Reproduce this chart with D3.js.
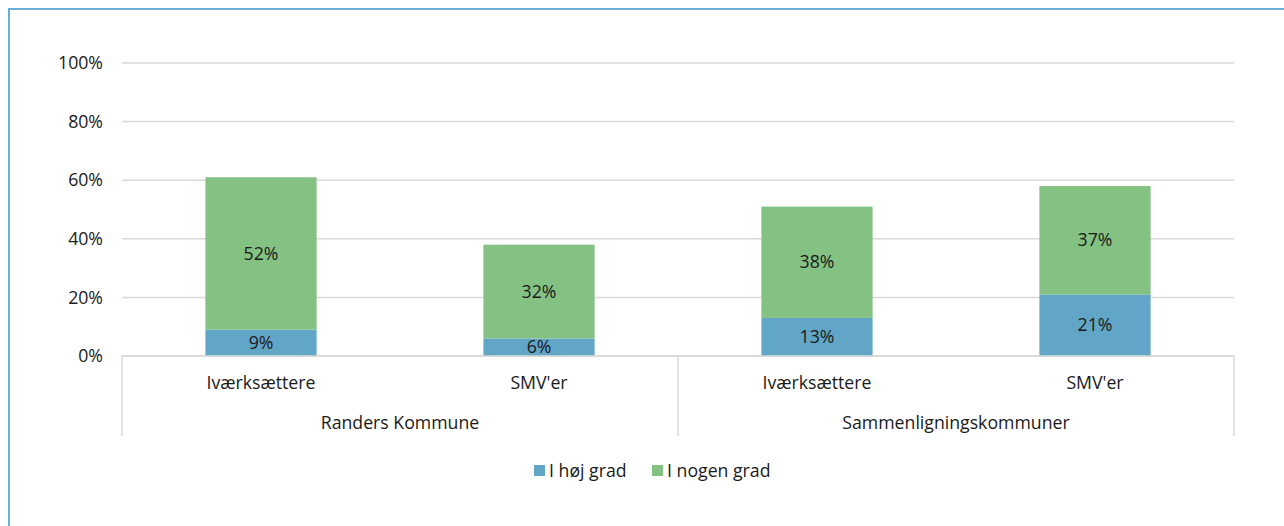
<!DOCTYPE html>
<html><head><meta charset="utf-8">
<script src="https://cdn.jsdelivr.net/npm/d3@7"></script>
<style>body{margin:0;background:#fff}svg{display:block}text{font-family:"Open Sans","Noto Sans",sans-serif;fill:#1a1a1a;font-size:17.7px}</style>
</head><body><svg id="c" width="1284" height="526"></svg>
<script>
const groups = ["Randers Kommune","Sammenligningskommuner"];
const categories = ["Iværksættere","SMV'er","Iværksættere","SMV'er"];
const categoryGroup = [0,0,1,1];
const seriesNames = ["I høj grad","I nogen grad"];
const hojGrad = [9,6,13,21];
const nogenGrad = [52,32,38,37];
const yTicks = [0,20,40,60,80,100];
const colors = ["#62a6c7","#84c283"];

const svg = d3.select("#c");
const W=1284,H=526;
svg.append("rect").attr("x",9).attr("y",9).attr("width",W).attr("height",H).attr("fill","#fff").attr("stroke","#6aaed3").attr("stroke-width",2);

const x0=122,x1=1234,yTop=63,yBot=356;
const x = d3.scaleBand().domain(d3.range(categories.length)).range([x0,x1]).paddingInner(0.6).paddingOuter(0.3);
const y = d3.scaleLinear().domain([0,100]).range([yBot,yTop]);

svg.append("g").selectAll("line").data(yTicks).join("line")
 .attr("x1",x0).attr("x2",x1).attr("y1",d=>y(d)).attr("y2",d=>y(d))
 .attr("stroke","#d9d9d9").attr("stroke-width",1.5);
svg.append("g").selectAll("text").data(yTicks).join("text")
 .attr("x",103).attr("y",d=>y(d)).attr("dy","0.35em").attr("text-anchor","end")
 .text(d=>d+"%");

const stacked = d3.stack().keys([0,1]).value((d,k)=>k===0?d.a:d.b)(categories.map((c,i)=>({a:hojGrad[i],b:nogenGrad[i]})));
const layer = svg.append("g").selectAll("g").data(stacked).join("g").attr("fill",(d,i)=>colors[i]);
layer.selectAll("rect").data(d=>d.map((v,i)=>({v,i}))).join("rect")
 .attr("x",d=>x(d.i)).attr("width",x.bandwidth())
 .attr("y",d=>y(d.v[1])).attr("height",d=>y(d.v[0])-y(d.v[1]));
const lab = svg.append("g");
stacked.forEach((s)=>{
  s.forEach((v,i)=>{
    lab.append("text").attr("x",x(i)+x.bandwidth()/2).attr("y",y((v[0]+v[1])/2)).attr("dy","0.35em")
      .attr("text-anchor","middle").text((v[1]-v[0])+"%");
  });
});

svg.append("line").attr("x1",x0).attr("x2",x1).attr("y1",yBot).attr("y2",yBot).attr("stroke","#d9d9d9").attr("stroke-width",1.5);
const sepX=[x0,(x0+x1)/2,x1];
svg.append("g").selectAll("line").data(sepX).join("line")
 .attr("x1",d=>d).attr("x2",d=>d).attr("y1",yBot).attr("y2",436).attr("stroke","#d9d9d9").attr("stroke-width",1.5);
svg.append("g").selectAll("text").data(categories).join("text")
 .attr("x",(d,i)=>x(i)+x.bandwidth()/2).attr("y",383).attr("dy","0.35em").attr("text-anchor","middle")
 .text(d=>d);
svg.append("g").selectAll("text").data(groups).join("text")
 .attr("x",(d,g)=>{const idx=categoryGroup.map((v,i)=>v===g?i:-1).filter(i=>i>=0);return (x(idx[0])+x(idx[idx.length-1])+x.bandwidth())/2;})
 .attr("y",423).attr("dy","0.35em").attr("text-anchor","middle").text(d=>d);

const leg = svg.append("g");
const legX=[534,652];
seriesNames.forEach((n,i)=>{
  leg.append("rect").attr("x",legX[i]).attr("y",465).attr("width",11).attr("height",11).attr("fill",colors[i]);
  leg.append("text").attr("x",legX[i]+15).attr("y",470.5).attr("dy","0.35em").text(n);
});
</script></body></html>
